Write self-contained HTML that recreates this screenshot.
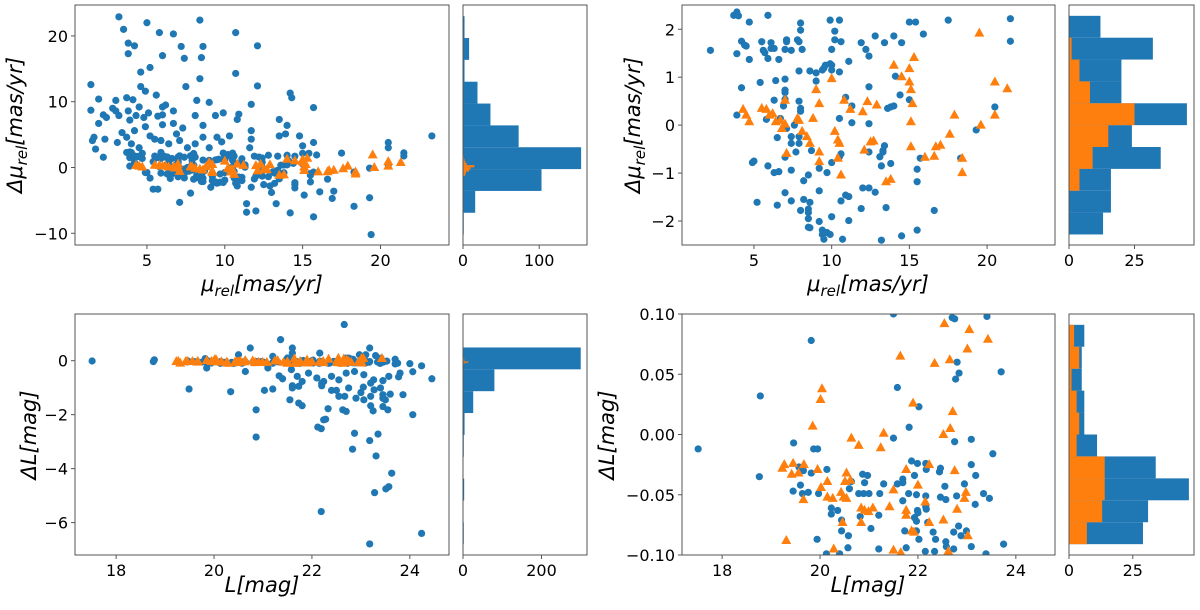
<!DOCTYPE html>
<html><head><meta charset="utf-8"><style>
html,body{margin:0;padding:0;background:#fff;overflow:hidden;}
svg{display:block;font-family:"DejaVu Sans","Liberation Sans",sans-serif;}
</style></head><body>
<svg id="fig" width="1200" height="610" viewBox="0 0 1200 610" xmlns="http://www.w3.org/2000/svg"></svg>
<script>
// ---------- DATA ----------
const pmBlueX = [2.2,3.7,3.9,4.0,4.7,5.9,3.9,4.2,4.4,4.5,4.7,5.5,5.6,5.7,5.9,6.1,6.1,6.3,6.6,7.0,7.1,7.1,7.4,7.8,7.9,8.0,8.0,8.1,9.9,10.5,10.2,10.2,10.6,10.0,11.9,12.2,12.4,12.8,13.4,14.0,14.5,15.0,15.4,15.9,17.5,21.5,21.5,11.1,9.4,9.6,9.5,9.9,10.0,10.0,10.5,9.0,8.6,7.9,9.0,7.0,6.4,5.4,4.2,7.0,7.0,7.0,6.3,7.9,8.0,8.0,6.9,3.9,5.8,6.7,7.6,7.1,6.5,7.4,7.9,7.4,7.9,7.7,8.7,7.0,5.0,4.9,5.9,6.3,6.6,7.4,8.5,8.2,9.2,9.7,10.0,10.5,10.6,10.5,11.3,11.3,10.9,12.4,12.4,13.1,13.3,13.4,13.3,12.4,13.2,13.8,13.6,13.8,14.0,14.1,14.4,15.0,15.7,15.5,15.5,19.3,20.5,18.3,12.0,12.4,12.8,10.9,11.1,9.2,7.0,7.4,8.2,8.6,6.5,5.2,10.6,11.9,13.5,16.6,8.0,8.5,8.5,8.5,9.2,10.0,11.1,8.5,8.6,9.4,9.7,9.9,9.4,9.5,10.7,13.2,14.5,15.5];
const pmBlueY = [1.56,2.29,2.36,2.28,2.15,2.29,1.49,1.75,1.67,1.65,1.37,1.74,1.56,1.51,1.39,1.72,1.60,1.60,1.37,1.58,1.78,1.74,1.56,1.78,1.74,2.13,1.98,1.58,2.19,2.19,1.96,1.78,1.74,1.58,1.72,1.58,1.44,1.86,1.72,1.86,1.72,2.15,2.15,1.90,2.19,2.22,1.75,1.33,1.15,1.25,1.19,1.28,1.25,1.15,1.11,1.09,1.13,1.13,0.92,0.96,0.93,0.89,0.78,0.73,0.68,0.54,0.52,0.50,0.35,0.29,0.40,0.21,0.12,0.14,0.0,-0.07,-0.26,-0.24,-0.24,-0.38,-0.38,-0.56,-0.53,-0.67,-0.75,-0.78,-0.85,-0.99,-0.97,-0.94,-1.04,-1.16,-0.90,-0.99,-0.78,-0.66,-0.60,0.14,0.05,0.40,0.58,0.80,0.03,-0.66,-0.53,-0.43,-0.56,-0.56,-0.85,-0.80,0.35,0.38,0.40,1.02,0.63,0.53,-0.69,-0.92,-1.18,-0.10,0.38,-0.69,-1.31,-1.31,-1.40,-1.46,-1.49,-1.37,-1.41,-1.58,-1.55,-1.61,-1.67,-1.61,-1.58,-1.74,-1.72,-1.78,-1.78,-1.75,-1.82,-1.95,-2.01,-1.91,-1.99,-2.13,-2.14,-2.19,-2.24,-2.28,-2.28,-2.38,-2.38,-2.40,-2.31,-2.19];
const pmBlueOuterX = [3.2,3.5,5.0,5.8,6.7,8.4,10.7,3.8,4.2,3.8,6.0,7.2,7.4,8.6,8.5,12.1,5.2,4.6,10.7,8.4,1.4,7.5,12.1,4.6,4.9,5.6,14.2,14.3,1.9,3.0,3.7,4.1,8.2,9.0,11.7,15.7,1.4,2.8,3.0,2.2,2.4,3.2,3.8,4.5,5.1,6.0,6.2,5.7,6.0,6.7,8.1,9.9,9.4,10.9,10.8,1.9,3.9,4.3,4.8,6.0,6.7,8.6,7.3,4.9,13.5,14.0,1.6,1.5,2.3,1.7,3.1,3.4,4.2,3.7,4.0,4.5,5.2,5.5,5.9,6.4,6.9,7.1,7.6,8.1,8.6,9.0,9.5,9.8,10.3,11.7,11.7,11.6,13.5,13.9,14.8,15.0,15.7,20.5,20.5,23.3,9.1,10.8,11.7,12.9,13.0,14.5,15.1,16.1,17.0,16.9,18.3,19.3,5.4,5.7,7.1,7.8,11.4,11.4,12.0,13.3,14.2,15.7,19.4,12.5,14.5];
const pmBlueOuterY = [22.9,21.0,22.0,20.5,20.3,22.4,20.5,18.9,18.5,17.3,17.0,18.4,16.6,18.4,16.7,18.5,15.2,14.5,14.3,13.5,12.6,12.3,12.4,12.3,11.6,11.0,11.3,10.6,10.4,10.2,10.6,10.3,10.2,9.9,9.6,9.1,8.7,9.0,8.6,8.0,7.6,7.9,8.6,9.2,8.3,9.2,9.5,7.8,8.0,8.6,7.9,8.3,7.9,8.1,7.3,6.7,7.2,7.9,7.6,6.5,6.7,6.4,6.0,6.2,7.3,6.4,4.6,4.1,4.3,2.8,3.8,5.3,5.6,4.6,3.6,3.0,4.8,4.3,4.1,3.6,5.1,4.1,3.0,3.6,4.6,3.0,4.6,3.9,4.8,5.6,4.3,3.0,4.8,5.1,4.8,3.3,3.8,3.8,3.0,4.8,-3.0,-2.8,-3.0,-2.8,-3.8,-3.1,-4.2,-3.7,-3.6,-4.7,-5.9,-4.6,-3.3,-3.3,-5.3,-3.9,-5.5,-6.8,-6.6,-5.5,-6.9,-7.5,-10.2,-2.6,-2.6];
const pmOrangeX = [4.3,4.5,4.7,5.5,5.8,6.0,6.2,6.4,6.7,6.8,7.0,7.0,7.1,7.8,7.9,8.1,8.4,8.6,8.8,9.0,9.2,9.2,9.2,10.0,10.2,10.4,10.5,10.4,10.6,10.8,11.2,12.0,12.1,12.3,12.5,12.7,12.9,13.5,13.8,14.0,14.5,15.0,15.0,15.1,15.1,15.1,15.2,15.3,16.0,16.6,16.7,17.0,17.6,17.9,18.4,18.4,19.5,19.6,20.5,20.5,21.3];
const pmOrangeY = [0.33,0.21,0.07,0.35,0.33,0.21,0.24,0.07,0.10,-0.07,0.02,0.52,-0.59,0.14,0.10,-0.13,-0.24,-0.38,0.14,0.74,0.45,-0.56,-0.76,0.97,-0.13,-0.31,-0.38,-0.69,-1.04,0.52,0.33,0.28,-0.52,0.49,-0.35,-0.33,0.42,-1.18,-1.13,1.25,1.01,1.18,0.90,0.74,0.07,-0.45,0.45,1.41,-0.67,-0.65,-0.45,-0.42,-0.19,0.21,-0.69,-0.99,1.92,0.0,0.90,0.21,0.76];
const magBlueX = [17.51,18.78,18.76,19.82,19.46,19.87,19.95,21.5,21.58,22.02,21.82,21.5,22.7,22.75,23.41,22.8,22.84,22.77,23.7,22.75,23.09,23.53,19.45,19.64,19.6,19.57,19.66,19.82,19.76,19.97,20.14,20.23,20.23,20.36,20.44,20.44,20.58,20.57,20.4,20.13,19.94,20.6,20.64,20.87,20.97,20.91,20.79,20.89,21.0,20.82,21.04,21.2,21.22,21.3,21.2,21.58,21.69,21.69,21.81,21.69,21.87,21.93,21.99,22.16,22.17,21.97,22.16,21.99,22.0,21.93,21.97,22.16,22.17,22.2,21.73,21.97,22.02,21.76,22.15,22.34,22.36,22.31,22.44,22.46,22.46,22.57,22.55,22.57,22.58,22.73,22.73,22.83,22.79,22.95,23.09,23.09,22.99,22.88,23.17,23.18,23.46,23.39,23.75,23.34];
const magBlueY = [-0.012,0.032,-0.035,0.078,-0.007,-0.012,-0.012,0.100,0.039,0.023,0.006,-0.003,0.097,0.096,0.098,0.060,0.051,0.046,0.052,-0.006,-0.004,-0.016,-0.047,-0.049,-0.042,-0.027,-0.030,-0.032,-0.048,-0.049,-0.029,-0.061,-0.066,-0.063,-0.071,-0.080,-0.084,-0.094,-0.099,-0.099,-0.087,-0.045,-0.039,-0.033,-0.034,-0.040,-0.049,-0.049,-0.049,-0.068,-0.078,-0.067,-0.049,-0.041,-0.095,-0.041,-0.037,-0.040,-0.049,-0.055,-0.022,-0.034,-0.024,-0.024,-0.029,-0.050,-0.051,-0.063,-0.065,-0.069,-0.072,-0.060,-0.062,-0.073,-0.080,-0.080,-0.087,-0.094,-0.097,-0.097,-0.087,-0.081,-0.031,-0.028,-0.052,-0.054,-0.043,-0.089,-0.093,-0.095,-0.081,-0.076,-0.051,-0.041,-0.025,-0.093,-0.080,-0.084,-0.058,-0.034,-0.053,-0.099,-0.091,-0.049];
const magBlueOuterX = [22.66,21.36,20.74,23.18,21.6,21.6,20.5,21.2,22.16,22.97,23.1,23.3,23.7,24.0,24.24,24.45,24.06,23.8,23.77,23.57,23.45,23.26,23.06,22.87,22.7,22.55,22.4,22.24,22.1,21.93,21.8,21.7,21.58,21.33,21.4,21.73,21.6,21.6,22.2,22.2,22.5,22.4,22.75,23.0,23.05,23.2,23.27,23.4,23.45,23.45,23.6,23.86,22.55,22.67,22.9,23.06,23.2,23.2,23.25,23.45,23.55,23.5,21.55,21.73,21.8,20.86,22.33,22.63,22.7,24.06,22.28,22.24,22.12,22.19,22.87,23.35,23.18,22.83,23.31,23.63,23.57,23.51,23.28,22.19,24.24,23.18,19.49,20.34,20.86,21.03,21.2,19.85,20.64,21.1];
const magBlueOuterY = [1.34,0.78,0.47,0.47,0.47,0.28,0.22,0.16,0.28,0.22,0.22,0.19,-0.12,-0.11,-0.19,-0.67,-0.41,-0.46,-0.6,-0.58,-0.74,-0.71,-0.52,-0.4,-0.46,-0.71,-0.58,-0.77,-0.64,-0.46,-0.77,-0.58,-0.33,-0.56,-0.67,-0.95,-0.93,-1.01,-0.83,-0.93,-1.1,-1.1,-1.01,-1.18,-0.98,-0.83,-1.08,-1.01,-1.26,-1.39,-1.24,-1.26,-1.32,-1.32,-1.39,-1.45,-1.32,-1.67,-1.86,-1.7,-1.82,-1.45,-1.45,-1.57,-1.67,-1.82,-1.78,-1.82,-1.88,-2.0,-2.17,-2.19,-2.46,-2.52,-2.69,-2.72,-2.96,-3.28,-3.53,-4.17,-4.67,-4.75,-4.89,-5.59,-6.4,-6.79,-1.05,-1.15,-2.83,-1.1,-1.05,-0.27,-0.4,-0.27];
const magOrangeX = [22.54,23.05,23.43,23.01,21.64,22.34,22.65,20.04,20.01,21.9,22.71,19.85,22.66,21.3,22.52,20.64,20.79,21.24,19.27,19.45,19.67,19.23,19.42,19.56,19.95,20.15,20.02,20.15,20.26,19.66,20.54,20.62,20.51,20.43,20.48,20.54,20.46,20.84,20.91,20.99,21.08,20.84,21.42,21.5,21.76,21.76,21.76,21.87,21.92,22.0,22.15,22.23,22.23,22.52,22.75,22.98,22.95,22.8,23.02,19.31,20.28,21.5,21.65,22.62];
const magOrangeY = [0.092,0.087,0.079,0.071,0.065,0.059,0.062,0.038,0.029,0.026,0.019,0.007,0.005,0.001,0.0,-0.003,-0.009,-0.011,-0.025,-0.024,-0.025,-0.028,-0.033,-0.032,-0.029,-0.039,-0.044,-0.052,-0.053,-0.054,-0.032,-0.038,-0.039,-0.048,-0.052,-0.053,-0.073,-0.061,-0.063,-0.064,-0.061,-0.073,-0.060,-0.046,-0.029,-0.063,-0.067,-0.080,-0.081,-0.042,-0.056,-0.025,-0.073,-0.071,-0.030,-0.048,-0.053,-0.062,-0.084,-0.088,-0.095,-0.096,-0.098,-0.097];
const histAEdges = [23.0, -3.32];
const histABlue = [2,8,2,19,36,73,155,103,16,1];
const histAOrangeEdges = [1.95, -0.32];
const histAOrange = [1,1,2,3,5,15,10,8,4,3];
const histBEdges = [2.28, -0.456];
const histBBlue = [12,32,20,20,45,24,35,16,16,13];
const histBOrange = [0,1,4,8,25,15,9,4,0,0];
const histCEdges = [1.30, -0.81];
const histCBlue = [1,300,80,26,4,2,0,3,1,2];
const histCOrangeEdges = [0.092, -0.019];
const histCOrange = [2,4,1,3,4,3,14,14,13,7];
const histDEdges = [0.091, -0.0182];
const histDBlue = [6,5,5,6,6,11,34,47,31,29];
const histDOrange = [2,4,1,3,4,3,14,14,13,7];
const ticksPmX = [5,10,15,20];
const ticksA_Y = [20,10,0,-10];
const ticksB_Y = [2,1,0,-1,-2];
const ticksMagX = [18,20,22,24];
const ticksC_Y = [0,-2,-4,-6];
const ticksD_Y = [0.10,0.05,0.00,-0.05,-0.10];

// ---------- DRAW ----------
const NS = "http://www.w3.org/2000/svg";
const svg = document.getElementById('fig');
const BLUE = "#1f77b4", ORANGE = "#ff7f0e";
function el(tag, attrs, parent){
  const e = document.createElementNS(NS, tag);
  for (const k in attrs) e.setAttribute(k, attrs[k]);
  (parent||svg).appendChild(e);
  return e;
}
function fmtNum(v, dec){ const s = v.toFixed(dec); return s.replace('-', '\u2212'); }
let clipId = 0;
function panel(name, box, xlim, ylim){
  const g = el('g', {});
  
  
  const sx = v => box.x0 + (v - xlim[0]) / (xlim[1] - xlim[0]) * (box.x1 - box.x0);
  const sy = v => box.y1 - (v - ylim[0]) / (ylim[1] - ylim[0]) * (box.y1 - box.y0);
  const cid = 'clip' + (clipId++);
  const cp = el('clipPath', {id: cid}, g);
  el('rect', {x: box.x0, y: box.y0, width: box.x1 - box.x0, height: box.y1 - box.y0}, cp);
  const plot = el('g', {'clip-path': 'url(#' + cid + ')'}, g);
  return {g, plot, sx, sy, box};
}
function frame(p){
  const f = el('rect', {x: p.box.x0, y: p.box.y0, width: p.box.x1 - p.box.x0, height: p.box.y1 - p.box.y0, fill: 'none', stroke: '#555', 'stroke-width': 1}, p.g);
  
  
}
function xticks(p, vals, dec){
  vals.forEach(v => {
    const x = p.sx(v);
    el('line', {x1: x, x2: x, y1: p.box.y1, y2: p.box.y1 + 4, stroke: '#555'}, p.g);
    const t = el('text', {x: x, y: p.box.y1 + 21, 'text-anchor': 'middle', 'font-size': 16, fill: '#000'}, p.g);
    t.textContent = fmtNum(v, dec);
    
    
  });
}
function yticks(p, vals, dec){
  vals.forEach(v => {
    const y = p.sy(v);
    el('line', {x1: p.box.x0 - 4, x2: p.box.x0, y1: y, y2: y, stroke: '#555'}, p.g);
    const t = el('text', {x: p.box.x0 - 7, y: y + 6, 'text-anchor': 'end', 'font-size': 16, fill: '#000'}, p.g);
    t.textContent = fmtNum(v, dec);
    
    
  });
}
function dots(p, xs, ys, name){
  xs.forEach((x, i) => {
    const c = el('circle', {cx: p.sx(x), cy: p.sy(ys[i]), r: 3.6, fill: BLUE}, p.plot);
    
    
  });
}
function tris(p, xs, ys, name){
  xs.forEach((x, i) => {
    const cx = p.sx(x), cy = p.sy(ys[i]);
    const t = el('polygon', {points: `${cx},${cy-5.5} ${cx-5},${cy+3.5} ${cx+5},${cy+3.5}`, fill: ORANGE}, p.plot);
    
    
  });
}
function hbars(p, edges, counts, color, name){
  counts.forEach((c, i) => {
    if (c <= 0) return;
    const top = edges[0] + edges[1] * i, bot = edges[0] + edges[1] * (i + 1);
    const y0 = p.sy(top), y1 = p.sy(bot);
    const r = el('rect', {x: p.sx(0), y: Math.min(y0, y1), width: p.sx(c) - p.sx(0), height: Math.abs(y1 - y0), fill: color}, p.plot);
    
    
  });
}
function label(x, y, rot, parts, name){
  const t = el('text', {x: x, y: y, 'text-anchor': 'middle', 'font-size': 21, 'font-style': 'italic', fill: '#000', transform: rot ? `rotate(-90 ${x} ${y})` : ''});
  
  
  parts.forEach(pt => {
    const s = el('tspan', {}, t);
    if (pt.sub) { s.setAttribute('font-size', 15); s.setAttribute('dy', 5); }
    else if (pt.after) { s.setAttribute('dy', -5); }
    s.textContent = pt.t;
  });
}

const allPmX = pmBlueOuterX.concat(pmBlueX), allPmY = pmBlueOuterY.concat(pmBlueY);
const allMagX = magBlueOuterX.concat(magBlueX), allMagY = magBlueOuterY.concat(magBlueY);

const A = panel('scatter-pm-full', {x0: 75, x1: 449, y0: 5, y1: 245}, [0.38, 24.4], [-11.78, 24.7]);
dots(A, allPmX, allPmY, 'point-all-stars'); tris(A, pmOrangeX, pmOrangeY, 'point-selected');
frame(A); xticks(A, ticksPmX, 0); yticks(A, ticksA_Y, 0);
const HA = panel('hist-pm-full', {x0: 463, x1: 587, y0: 5, y1: 245}, [0, 162.7], [-11.78, 24.7]);
hbars(HA, histAEdges, histABlue, BLUE, 'hist-bar-all'); hbars(HA, histAOrangeEdges, histAOrange, ORANGE, 'hist-bar-selected');
frame(HA); xticks(HA, [0, 100], 0);

const B = panel('scatter-pm-zoom', {x0: 682, x1: 1055, y0: 5, y1: 245}, [0.37, 24.37], [-2.5, 2.506]);
dots(B, allPmX, allPmY, 'point-all-stars'); tris(B, pmOrangeX, pmOrangeY, 'point-selected');
frame(B); xticks(B, ticksPmX, 0); yticks(B, ticksB_Y, 0);
const HB = panel('hist-pm-zoom', {x0: 1069, x1: 1194, y0: 5, y1: 245}, [0, 47.7], [-2.5, 2.506]);
hbars(HB, histBEdges, histBBlue, BLUE, 'hist-bar-all'); hbars(HB, histBEdges, histBOrange, ORANGE, 'hist-bar-selected');
frame(HB); xticks(HB, [0, 25], 0);

const C = panel('scatter-mag-full', {x0: 75, x1: 449, y0: 314, y1: 555}, [17.16, 24.8], [-7.2, 1.73]);
dots(C, allMagX, allMagY, 'point-all-stars'); tris(C, magOrangeX, magOrangeY, 'point-selected');
frame(C); xticks(C, ticksMagX, 0); yticks(C, ticksC_Y, 0);
const HC = panel('hist-mag-full', {x0: 463, x1: 587, y0: 314, y1: 555}, [0, 316], [-7.2, 1.73]);
hbars(HC, histCEdges, histCBlue, BLUE, 'hist-bar-all'); hbars(HC, histCOrangeEdges, histCOrange, ORANGE, 'hist-bar-selected');
frame(HC); xticks(HC, [0, 200], 0);

const D = panel('scatter-mag-zoom', {x0: 682, x1: 1055, y0: 314, y1: 555}, [17.18, 24.8], [-0.1, 0.1]);
dots(D, allMagX, allMagY, 'point-all-stars'); tris(D, magOrangeX, magOrangeY, 'point-selected');
frame(D); xticks(D, ticksMagX, 0); yticks(D, ticksD_Y, 2);
const HD = panel('hist-mag-zoom', {x0: 1069, x1: 1194, y0: 314, y1: 555}, [0, 49], [-0.1, 0.1]);
hbars(HD, histDEdges, histDBlue, BLUE, 'hist-bar-all'); hbars(HD, histDEdges, histDOrange, ORANGE, 'hist-bar-selected');
frame(HD); xticks(HD, [0, 25], 0);

const muX = [{t:'μ'},{t:'rel',sub:true},{t:'[mas/yr]',after:true}];
const dmuY = [{t:'Δμ'},{t:'rel',sub:true},{t:'[mas/yr]',after:true}];
label(262, 291, false, muX, 'x-axis-title');
label(868, 291, false, muX, 'x-axis-title');
label(22, 125, true, dmuY, 'y-axis-title');
label(640, 125, true, dmuY, 'y-axis-title');
label(262, 592, false, [{t:'L[mag]'}], 'x-axis-title');
label(868, 592, false, [{t:'L[mag]'}], 'x-axis-title');
label(36, 435, true, [{t:'ΔL[mag]'}], 'y-axis-title');
label(614, 435, true, [{t:'ΔL[mag]'}], 'y-axis-title');
</script>
</body></html>
